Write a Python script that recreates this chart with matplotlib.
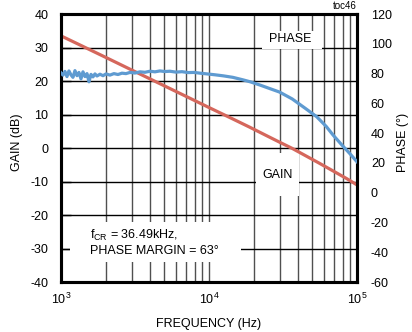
import numpy as np
import matplotlib
matplotlib.use("Agg")
import matplotlib.pyplot as plt
from matplotlib.patches import Rectangle

plt.rcParams['font.family'] = ['Liberation Sans', 'DejaVu Sans']
plt.rcParams['mathtext.fontset'] = 'custom'
plt.rcParams['mathtext.rm'] = 'Liberation Sans'
plt.rcParams['mathtext.it'] = 'Liberation Sans'
plt.rcParams['axes.unicode_minus'] = False

# gain curve (dB) vs frequency (Hz)
gain_freq = [1000, 1340, 2000, 3070, 4670, 7100, 10000, 14000, 18900, 25000,
             30000, 36490, 45000, 55000, 70000, 85000, 100000]
gain_db = [33.5, 30.8, 27.1, 23.1, 19.2, 15.3, 12.1, 9.0, 6.2, 3.5,
           1.75, -0.1, -2.3, -4.4, -7.0, -9.1, -11.0]

# phase curve (deg) vs frequency (Hz)
phase_freq = [1000, 1032, 1064, 1098, 1132, 1168, 1205, 1243, 1283, 1323,
              1365, 1408, 1453, 1499, 1546, 1595, 1645, 1697, 1751, 1835,
              1923, 2015, 2142, 2279, 2427, 2583, 2749, 2926, 3162, 3417,
              3694, 3992, 4315, 4663, 5040, 5446, 5982, 6570, 7218, 7927,
              8709, 9710, 11000, 12500, 14500, 17000, 19000, 22000, 26000, 30000,
              36490, 45000, 53500, 62000, 69000, 80000, 90000, 100000]
phase_deg = [80.5, 79.0, 81.5, 78.0, 81.8, 79.2, 77.5, 82.0, 78.6, 80.8,
             76.5, 81.2, 78.0, 80.0, 74.5, 79.5, 77.8, 79.8, 78.4, 79.6,
             78.6, 79.8, 79.0, 80.0, 79.4, 80.3, 80.0, 80.8, 80.4, 81.2,
             80.9, 81.6, 81.2, 81.8, 81.4, 81.6, 81.0, 81.3, 80.7, 80.8,
             80.3, 79.8, 79.2, 78.5, 77.5, 75.8, 74.5, 72.4, 69.8, 67.6,
             63.0, 56.5, 51.0, 44.5, 38.7, 31.5, 26.0, 20.8]

gain_ticks = [40, 30, 20, 10, 0, -10, -20, -30, -40]
phase_ticks = [120, 100, 80, 60, 40, 20, 0, -20, -40, -60]

red = '#d5675c'
blue = '#5f9bd1'

fig = plt.figure(figsize=(4.12, 3.32), dpi=100)
ax = fig.add_axes([0.148, 0.1506, 0.7184, 0.807])
ax2 = ax.twinx()

ax.set_xscale('log')
ax.set_xlim(1e3, 1e5)
ax.set_ylim(-40, 40)
ax.set_yticks(gain_ticks)
ax.set_xticks([1e3, 1e4, 1e5])
ax.set_xticklabels([r'$10^3$', r'$10^4$', r'$10^5$'])
ax.xaxis.set_minor_formatter(plt.NullFormatter())
ax.grid(True, which='both', axis='x', color='#505050', lw=1)
ax.grid(True, which='major', axis='y', color='black', lw=1)
ax.tick_params(axis='y', direction='in', length=7, width=1, labelsize=9, pad=9)
ax.tick_params(axis='x', which='both', direction='in', length=0, labelsize=9, pad=7)

ax2.set_ylim(-60, 120)
ax2.set_yticks(phase_ticks)
ax2.tick_params(axis='y', length=0, labelsize=9, pad=10)

for a in (ax, ax2):
    for s in a.spines.values():
        s.set_linewidth(2.2)
        s.set_color('black')

ax.plot(gain_freq, gain_db, color=red, lw=2.3, zorder=3)
ax2.plot(phase_freq, phase_deg, color=blue, lw=2.3, zorder=3)

# white boxes behind the labels
ax.add_patch(Rectangle((0.030, 0.075), 0.578, 0.150, transform=ax.transAxes,
                       fc='white', ec='none', zorder=1.6))
ax.add_patch(Rectangle((0.679, 0.869), 0.203, 0.068, transform=ax.transAxes,
                       fc='white', ec='none', zorder=1.6))
ax.add_patch(Rectangle((0.660, 0.320), 0.145, 0.160, transform=ax.transAxes,
                       fc='white', ec='none', zorder=1.6))

ax.text(0.775, 0.907, 'PHASE', transform=ax.transAxes, fontsize=9,
        ha='center', va='center', zorder=4)
ax.text(0.732, 0.398, 'GAIN', transform=ax.transAxes, fontsize=9,
        ha='center', va='center', zorder=4)
ax.text(0.098, 0.175, r'f$_\mathregular{CR}$ = 36.49kHz,', transform=ax.transAxes,
        fontsize=9, ha='left', va='center', zorder=4)
ax.text(0.098, 0.117, 'PHASE MARGIN = 63°', transform=ax.transAxes,
        fontsize=9, ha='left', va='center', zorder=4)

fig.text(0.866, 0.981, 'toc46', fontsize=7, ha='right', va='center')

ax.set_ylabel('GAIN (dB)', fontsize=9)
ax.yaxis.set_label_coords(-0.128, 0.52)
ax2.set_ylabel('PHASE (°)', fontsize=9, rotation=90)
ax2.yaxis.set_label_coords(1.135, 0.52)
ax.set_xlabel('FREQUENCY (Hz)', fontsize=9, labelpad=8)

fig.savefig('out.png', dpi=100)
